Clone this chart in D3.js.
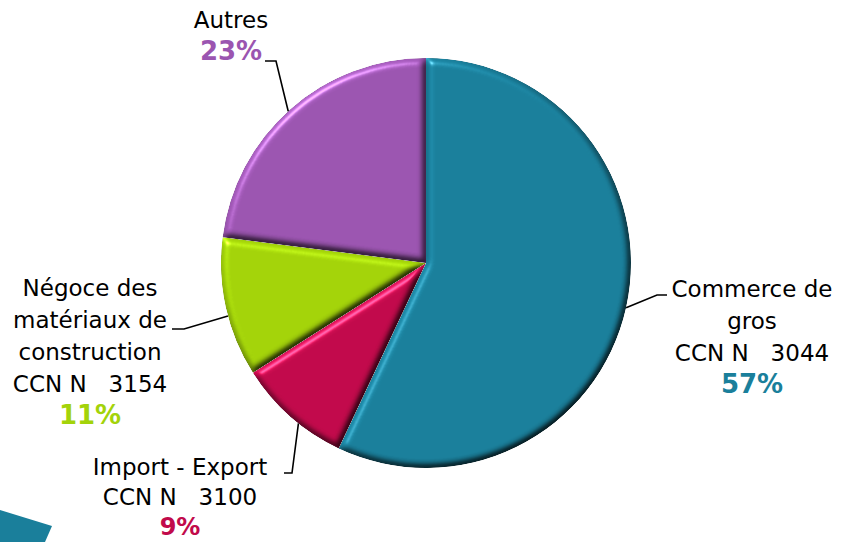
<!DOCTYPE html>
<html>
<head>
<meta charset="utf-8">
<script src="https://cdn.jsdelivr.net/npm/d3@7"></script>
<style>
  html, body { margin: 0; padding: 0; background: #fff; }
  svg { display: block; }
  .lbl { font-family: Tahoma, "DejaVu Sans", sans-serif; font-size: 23px; fill: #000; }
  .pct { font-weight: bold; font-size: 26px; }
</style>
</head>
<body>
<div id="chart"></div>
<script>
// data
const categories = ['Commerce de gros', 'Import - Export', 'Négoce des matériaux de construction', 'Autres']
const shares = [57, 9, 11, 23]
const colors = ['#1a7f9b', '#c10a4b', '#a3d30a', '#9b55b0']
const labelLines = [
    ['Commerce de', 'gros', 'CCN N   3044'],
    ['Import - Export', 'CCN N   3100'],
    ['Négoce des', 'matériaux de', 'construction', 'CCN N   3154'],
    ['Autres']
]

const width = 844
const height = 542
const cx = 426, cy = 263, radius = 205

const svg = d3.create('svg')
    .attr('width', width)
    .attr('height', height)
    .attr('viewBox', [0, 0, width, height])

/* bevel filter */
const defs = svg.append('defs')
const bevel = defs.append('filter')
    .attr('id', 'bevel')
    .attr('color-interpolation-filters', 'sRGB')
    .attr('x', '-10%').attr('y', '-10%')
    .attr('width', '120%').attr('height', '120%')
bevel.append('feGaussianBlur').attr('in', 'SourceAlpha').attr('stdDeviation', 3.5).attr('result', 'blur')
const diff = bevel.append('feDiffuseLighting')
    .attr('in', 'blur').attr('surfaceScale', 5)
    .attr('diffuseConstant', 1).attr('lighting-color', '#ffffff').attr('result', 'diff')
diff.append('feDistantLight').attr('azimuth', 235).attr('elevation', 60)
bevel.append('feComposite').attr('in', 'SourceGraphic').attr('in2', 'diff')
    .attr('operator', 'arithmetic').attr('k1', 1.155).attr('k2', 0).attr('k3', 0).attr('k4', 0).attr('result', 'shaded')
const spec = bevel.append('feSpecularLighting')
    .attr('in', 'blur').attr('surfaceScale', 5)
    .attr('specularConstant', 0.7).attr('specularExponent', 40)
    .attr('lighting-color', '#ffffff').attr('result', 'spec')
spec.append('feDistantLight').attr('azimuth', 235).attr('elevation', 35)
bevel.append('feComposite').attr('in', 'spec').attr('in2', 'SourceAlpha').attr('operator', 'in').attr('result', 'specIn')
bevel.append('feComposite').attr('in', 'shaded').attr('in2', 'specIn')
    .attr('operator', 'arithmetic').attr('k1', 0).attr('k2', 1).attr('k3', 0.5).attr('k4', 0).attr('result', 'lit')
bevel.append('feComposite').attr('in', 'lit').attr('in2', 'SourceAlpha').attr('operator', 'in')

/* decoration bottom-left (slide background) */
svg.append('path')
    .attr('d', 'M0,510 L52,526 L45,542 L0,542 Z')
    .attr('fill', '#1a7f9b')

/* pie */
const pie = d3.pie().sort(null).value(d => d)
const arcs = pie(shares)
const arc = d3.arc().innerRadius(0).outerRadius(radius)

const g = svg.append('g').attr('transform', `translate(${cx},${cy})`)
g.selectAll('path.slice')
    .data(arcs)
    .enter()
    .append('path')
    .attr('class', 'slice')
    .attr('d', arc)
    .attr('fill', (d, i) => colors[i])
    .attr('filter', 'url(#bevel)')

/* labels and leader lines, laid out by hand like the original */
const labelPos = [
    { x: 752, y: 297, gap: 32, pctSize: 26, line: [[667, 295], [657, 295]], at: 0.50 },
    { x: 180, y: 475, gap: 30, pctSize: 24, line: [[284, 473], [292, 473]], at: 0.41 },
    { x: 90, y: 296, gap: 32, pctSize: 26, line: [[172, 329], [184, 329]], at: 0.44 },
    { x: 231, y: 28, gap: 32, pctSize: 26, line: [[265, 61], [276, 61]], at: 0.49 }
]

arcs.forEach((d, i) => {
    const p = labelPos[i]
    const a = d.startAngle + (d.endAngle - d.startAngle) * p.at
    const rim = [cx + radius * Math.sin(a), cy - radius * Math.cos(a)]
    svg.append('path')
        .attr('d', d3.line()([p.line[0], p.line[1], rim]))
        .attr('fill', 'none')
        .attr('stroke', '#000')
        .attr('stroke-width', 1.6)

    const t = svg.append('text')
        .attr('class', 'lbl')
        .attr('text-anchor', 'middle')
        .attr('xml:space', 'preserve')
        .style('white-space', 'pre')
    const lines = labelLines[i]
    lines.forEach((s, j) => {
        t.append('tspan').attr('x', p.x).attr('y', p.y + j * p.gap).text(s)
    })
    t.append('tspan')
        .attr('class', 'pct')
        .attr('x', p.x)
        .attr('y', p.y + lines.length * p.gap)
        .attr('fill', colors[i])
        .style('font-size', p.pctSize + 'px')
        .text(shares[i] + '%')
})

document.getElementById('chart').appendChild(svg.node())
</script>
</body>
</html>
